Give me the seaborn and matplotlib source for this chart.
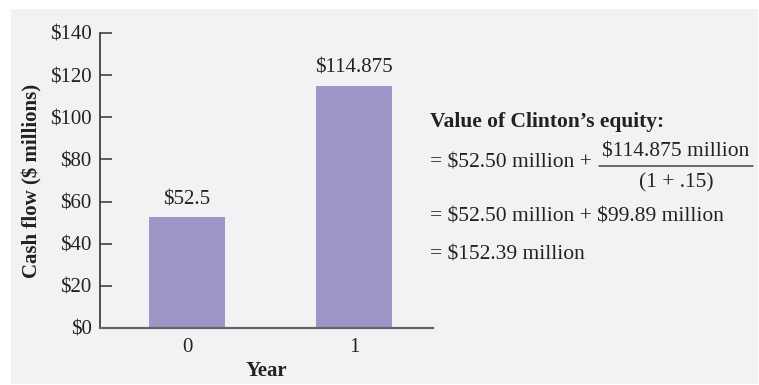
import matplotlib
matplotlib.use("Agg")
import matplotlib.pyplot as plt
from matplotlib.patches import Rectangle
from matplotlib.lines import Line2D
import seaborn as sns
import pandas as pd

# Cash flows by year ($ millions)
years = ["0", "1"]
cash_flow = [52.5, 114.875]
bar_labels = ["$52.5", "$114.875"]
y_ticks = [0, 20, 40, 60, 80, 100, 120, 140]
y_tick_labels = ["$0", "$20", "$40", "$60", "$80", "$100", "$120", "$140"]

title_text = "Value of Clinton\u2019s equity:"
line1_left = "= $52.50 million + "
frac_num = "$114.875 million"
frac_den = "(1 + .15)"
line2 = "= $52.50 million + $99.89 million"
line3 = "= $152.39 million"

sns.set_theme(style="white")
plt.rcParams["font.family"] = ["Liberation Serif", "DejaVu Serif"]
plt.rcParams["text.parse_math"] = False

W, H = 759, 385
fig = plt.figure(figsize=(W / 100, H / 100), dpi=100)
fig.patch.set_facecolor("white")
panel_color = "#f1f2f4"
fig.patches.append(Rectangle((11 / W, 1 - 384 / H), (758 - 11) / W, (384 - 9) / H,
                             transform=fig.transFigure, facecolor=panel_color,
                             edgecolor="none", zorder=-5))

ax = fig.add_axes([100 / W, 1 - 328 / H, 333 / W, 295 / H])
ax.set_facecolor("none")
ax.set_zorder(2)

df = pd.DataFrame({"Year": years, "Cash flow": cash_flow})
sns.barplot(data=df, x="Year", y="Cash flow", order=years, color="#9d97c8",
            saturation=1, width=0.455, linewidth=0, ax=ax)

tc = "#222222"
fs = 15
fs_r = 15.5

for patch, lab in zip(ax.patches, bar_labels):
    ax.annotate(lab, (patch.get_x() + patch.get_width() / 2, patch.get_height()),
                xytext=(0, 6), textcoords="offset points", ha="center", va="bottom",
                fontsize=fs, color=tc)

ax.set_xlim(-0.521, 1.473)
ax.set_ylim(0, 140)
ax.set_yticks(y_ticks)
ax.set_yticklabels(y_tick_labels)
ax.tick_params(axis="y", direction="in", length=8.6, width=1.1, color="#333333",
               labelsize=fs, labelcolor=tc, pad=6, left=True)
ax.tick_params(axis="x", length=0, labelsize=fs, labelcolor=tc, pad=7.5)

for s in ["top", "right"]:
    ax.spines[s].set_visible(False)
ax.spines["left"].set_color("#333333")
ax.spines["left"].set_linewidth(1.2)
ax.spines["bottom"].set_color("#666666")
ax.spines["bottom"].set_linewidth(1.6)

ax.set_xlabel("Year", fontsize=fs, fontweight="bold", color=tc, labelpad=2.5)
ax.set_ylabel("Cash flow ($ millions)", fontsize=fs, fontweight="bold", color=tc)
ax.yaxis.set_label_coords(-0.172, 0.5)


def fx(px):
    return px / W


def fy(py):
    return 1 - py / H


fig.text(fx(430), fy(122), title_text, fontsize=fs_r, fontweight="bold", color=tc,
         ha="left", va="center")
fig.text(fx(430), fy(163), line1_left, fontsize=fs_r, color=tc, ha="left", va="center")
fig.text(fx(676), fy(152), frac_num, fontsize=fs_r, color=tc, ha="center", va="center")
fig.text(fx(676), fy(183), frac_den, fontsize=fs_r, color=tc, ha="center", va="center")
fig.lines.append(Line2D([fx(599), fx(753)], [fy(166), fy(166)], transform=fig.transFigure,
                        color="#444444", linewidth=1.1))
fig.text(fx(430), fy(217), line2, fontsize=fs_r, color=tc, ha="left", va="center")
fig.text(fx(430), fy(255), line3, fontsize=fs_r, color=tc, ha="left", va="center")

fig.savefig("out.png", dpi=100, facecolor="white")
